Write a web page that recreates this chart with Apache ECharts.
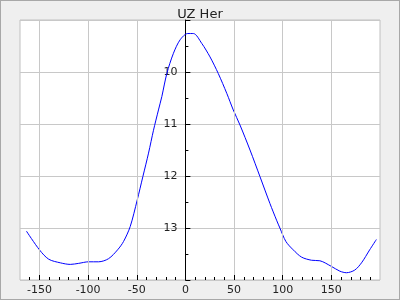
<!DOCTYPE html>
<html>
<head>
<meta charset="utf-8">
<script src="https://cdn.jsdelivr.net/npm/echarts@6/dist/echarts.min.js"></script>
<style>
  html, body { margin: 0; padding: 0; background: #efefef; }
  #frame { width: 400px; height: 300px; box-sizing: border-box; border: 1px solid #a8a8a8; background: #efefef; }
  #chart { width: 398px; height: 298px; }
</style>
</head>
<body>
<div id="frame"><div id="chart"></div></div>
<script>
const title = 'UZ Her';
const phase = [-163.4, -150, -140.5, -128.5, -118.3, -109.7, -99.5, -89.2, -79, -69.7, -63.6, -56.7, -49.5, -43.7, -37.9, -32.8, -27.7, -24.2, -19.1, -12.3, -5.4, 2.4, 8.2, 16.8, 25.3, 33.8, 42.5, 49.2, 56.1, 66.4, 76.6, 86.9, 93.7, 97.1, 103.3, 110.8, 119.4, 129.6, 138.2, 150.2, 158.7, 165.5, 174, 181, 189.4, 196.3];
const magnitude = [13.06, 13.42, 13.60, 13.67, 13.70, 13.68, 13.65, 13.65, 13.59, 13.42, 13.26, 12.97, 12.46, 12.01, 11.56, 11.12, 10.73, 10.47, 10.03, 9.64, 9.38, 9.26, 9.26, 9.45, 9.71, 10.03, 10.41, 10.73, 11.02, 11.50, 12.01, 12.53, 12.85, 13.00, 13.26, 13.42, 13.56, 13.62, 13.63, 13.74, 13.83, 13.86, 13.81, 13.67, 13.42, 13.22];
const xTickLabels = [-150, -100, -50, 0, 50, 100, 150];
const yTickLabels = [10, 11, 12, 13];

const xMin = -170, xMax = 200, yMin = 9, yMax = 14;
const chart = echarts.init(document.getElementById('chart'), null, { renderer: 'canvas' });
const font = 'DejaVu Sans';
const majorTickLen = 5 / 52; // in magnitude units (about 5px)

chart.setOption({
  animation: false,
  backgroundColor: '#efefef',
  title: {
    text: title, left: 'center', top: 2,
    textStyle: { fontFamily: font, fontSize: 13, fontWeight: 'normal', color: '#222' }
  },
  grid: {
    left: 19, right: 19, top: 19, bottom: 19,
    containLabel: false, outerBoundsMode: 'none',
    show: true, backgroundColor: '#ffffff', borderColor: '#c0c0c0', borderWidth: 1
  },
  xAxis: {
    type: 'value', min: xMin, max: xMax, interval: 10,
    axisLine: { show: false },
    axisTick: { show: true, inside: true, length: 3, lineStyle: { color: '#000' } },
    splitLine: { show: false },
    axisLabel: {
      fontFamily: font, fontSize: 11, color: '#222', margin: 5,
      showMinLabel: false, showMaxLabel: false,
      formatter: v => xTickLabels.indexOf(v) >= 0 ? String(v) : ''
    }
  },
  yAxis: {
    type: 'value', min: yMin, max: yMax, interval: 1, inverse: true,
    position: 'left', offset: 0,
    axisLine: { show: true, onZero: false, lineStyle: { color: '#000', width: 1 } },
    axisTick: { show: true, inside: true, length: 5, lineStyle: { color: '#000' } },
    minorTick: { show: true, splitNumber: 2, length: 3, lineStyle: { color: '#000' } },
    splitLine: { show: true, lineStyle: { color: '#c8c8c8', width: 1 } },
    axisLabel: {
      fontFamily: font, fontSize: 11, color: '#222', margin: 8,
      showMinLabel: false, showMaxLabel: false,
      formatter: v => yTickLabels.indexOf(v) >= 0 ? String(v) : ''
    }
  },
  series: [
    {
      type: 'line', data: [], z: 1, silent: true,
      markLine: {
        silent: true, symbol: 'none', animation: false,
        label: { show: false },
        lineStyle: { color: '#c8c8c8', type: 'solid', width: 1 },
        data: xTickLabels.filter(v => v !== 0).map(v => ({ xAxis: v }))
      }
    },
    {
      type: 'line', data: [], z: 3, silent: true,
      markLine: {
        silent: true, symbol: 'none', animation: false,
        label: { show: false },
        lineStyle: { color: '#000', type: 'solid', width: 1 },
        data: xTickLabels.map(v => [{ coord: [v, yMax] }, { coord: [v, yMax - majorTickLen] }])
      }
    },
    {
      type: 'line', z: 2,
      data: phase.map((p, i) => [p, magnitude[i]]),
      showSymbol: false,
      smooth: 0.3,
      lineStyle: { color: '#0000ff', width: 1 },
      itemStyle: { color: '#0000ff' }
    }
  ]
});

// Place the y axis on x = 0, using the x scale of the chart
const x0 = chart.convertToPixel({ xAxisIndex: 0 }, 0);
const xLeft = chart.convertToPixel({ xAxisIndex: 0 }, xMin);
chart.setOption({ yAxis: { offset: xLeft - x0 } });
</script>
</body>
</html>
